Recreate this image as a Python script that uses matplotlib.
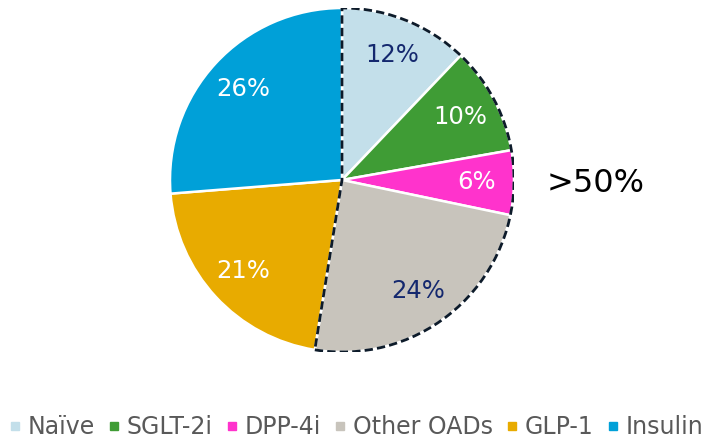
import matplotlib.pyplot as plt
from matplotlib.patches import Wedge
from matplotlib.lines import Line2D

labels = ['Naïve', 'SGLT-2i', 'DPP-4i', 'Other OADs', 'GLP-1', 'Insulin']
shares = [12, 10, 6, 24, 21, 26]
colors = ['#c3dfea', '#3f9c35', '#ff33cc', '#c8c4bc', '#e8ab00', '#00a0d8']
label_colors = ['#14286e', 'white', 'white', '#14286e', 'white', 'white']
group_size = 4  # first four slices make up the ">50%" group

fig = plt.figure(figsize=(7.09, 4.38), dpi=100)
ax = fig.add_axes([170 / 709, (438 - 180 - 172) / 438, 344 / 709, 344 / 438])

wedges, texts, autotexts = ax.pie(
    shares, colors=colors, startangle=90, counterclock=False,
    autopct=lambda p: '', pctdistance=0.78,
    wedgeprops=dict(edgecolor='white', linewidth=1.8))

total = sum(shares)
for t, v, c in zip(autotexts, shares, label_colors):
    t.set_text(f'{v}%')
    t.set_color(c)
    t.set_fontsize(17.5)

# dashed outline around the first group of slices
end_angle = 90 - 360 * sum(shares[:group_size]) / total
ax.add_patch(Wedge((0, 0), 1.0, end_angle, 90, fill=False,
                   edgecolor='#0d1b2a', linewidth=2, linestyle=(0, (3, 1.5))))

ax.set_xlim(-1.0, 1.0)
ax.set_ylim(-1.0, 1.0)
ax.set_aspect('equal')
ax.axis('off')

fig.text(596 / 709, 1 - 183 / 438, '>50%', fontsize=23, ha='center', va='center',
         color='black')

handles = [Line2D([], [], marker='s', linestyle='none', markersize=5.8,
                  markerfacecolor=c, markeredgecolor=c) for c in colors]
fig.legend(handles, labels, loc='center', bbox_to_anchor=(357 / 709, 1 - 427 / 438),
           ncol=6, frameon=False, fontsize=17, handlelength=0.35,
           handletextpad=0.38, columnspacing=0.62, labelcolor='#595959',
           borderaxespad=0, borderpad=0)

fig.savefig('out.png', dpi=100)
